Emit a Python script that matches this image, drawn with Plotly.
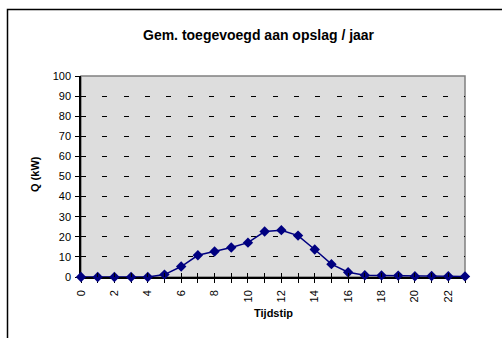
import plotly.graph_objects as go

# Hourly average heat added to storage over the year
hours = list(range(24))
q_kw = [0, 0, 0, 0, 0, 1.2, 5.2, 10.8, 12.7, 14.7, 17.1, 22.6, 23.3, 20.6,
        13.7, 6.4, 2.4, 0.9, 0.8, 0.7, 0.4, 0.5, 0.4, 0.3]

x_tick_vals = list(range(24))
x_tick_text = [str(h) if h % 2 == 0 else "" for h in x_tick_vals]
y_tick_vals = list(range(0, 101, 10))

title_text = "Gem. toegevoegd aan opslag / jaar"
x_title = "Tijdstip"
y_title = "Q (kW)"

FONT = "Liberation Sans, Arial, sans-serif"
W, H = 502, 338
L, R, T, B = 81, 37, 76, 61
pw, ph = W - L - R, H - T - B


def px_x(px):
    return (px - L) / pw


def px_y(py):
    return (H - B - py) / ph


fig = go.Figure()
fig.add_trace(go.Scatter(
    x=hours, y=q_kw, mode="lines+markers",
    line=dict(color="#000080", width=1.5),
    marker=dict(symbol="diamond", size=8, color="#000080"),
    cliponaxis=False, showlegend=False,
))

fig.update_layout(
    template="none",
    width=W, height=H,
    margin=dict(l=L, r=R, t=T, b=B),
    paper_bgcolor="white",
    plot_bgcolor="#dddddd",
    font=dict(family=FONT, size=11, color="black"),
    xaxis=dict(
        range=[0, 23], tickmode="array", tickvals=x_tick_vals, ticktext=x_tick_text,
        tickangle=-90, ticks="outside", ticklen=4, tickcolor="black", tickwidth=1,
        ticklabelstandoff=3,
        showline=True, linecolor="black", linewidth=1.5, showgrid=False,
        zeroline=False, layer="below traces",
        tickfont=dict(size=11, color="black", family=FONT),
    ),
    xaxis2=dict(
        range=[0, 23], overlaying="x", anchor="y", side="bottom",
        tickmode="array", tickvals=x_tick_vals, ticks="inside", ticklen=4,
        tickcolor="black", tickwidth=1, showticklabels=False, showline=False,
        showgrid=False, zeroline=False,
    ),
    yaxis=dict(
        range=[0, 100], tickmode="array", tickvals=y_tick_vals,
        ticks="outside", ticklen=4, tickcolor="black", tickwidth=1,
        ticklabelstandoff=2,
        showline=True, linecolor="black", linewidth=1.5,
        showgrid=True, gridcolor="black", gridwidth=1, griddash="5px,16.3px",
        zeroline=False, layer="below traces",
        tickfont=dict(size=11, color="black", family=FONT),
    ),
    shapes=[
        # gray frame around the plot area (top and right edges visible)
        dict(type="rect", xref="paper", yref="paper", x0=0, x1=1, y0=0, y1=1,
             line=dict(color="#808080", width=1.5), layer="below"),
        # outer chart border
        dict(type="rect", xref="paper", yref="paper",
             x0=px_x(7.5), x1=px_x(510), y0=px_y(345), y1=px_y(9.5),
             line=dict(color="black", width=1.5), layer="above"),
    ],
    annotations=[
        dict(text="<b>%s</b>" % title_text, xref="paper", yref="paper",
             x=px_x(258.5), y=px_y(35), showarrow=False,
             font=dict(size=14, color="black"), xanchor="center", yanchor="middle"),
        dict(text="<b>%s</b>" % x_title, xref="paper", yref="paper",
             x=px_x(273), y=px_y(313), showarrow=False,
             font=dict(size=11, color="black"), xanchor="center", yanchor="middle"),
        dict(text="<b>%s</b>" % y_title, xref="paper", yref="paper",
             x=px_x(35), y=px_y(174), showarrow=False, textangle=-90,
             font=dict(size=11, color="black"), xanchor="center", yanchor="middle"),
    ],
)
# empty trace so the overlay axis with inside ticks is rendered
fig.add_trace(go.Scatter(x=[None], y=[None], xaxis="x2", showlegend=False,
                         hoverinfo="skip"))

fig.write_html("out.html")
